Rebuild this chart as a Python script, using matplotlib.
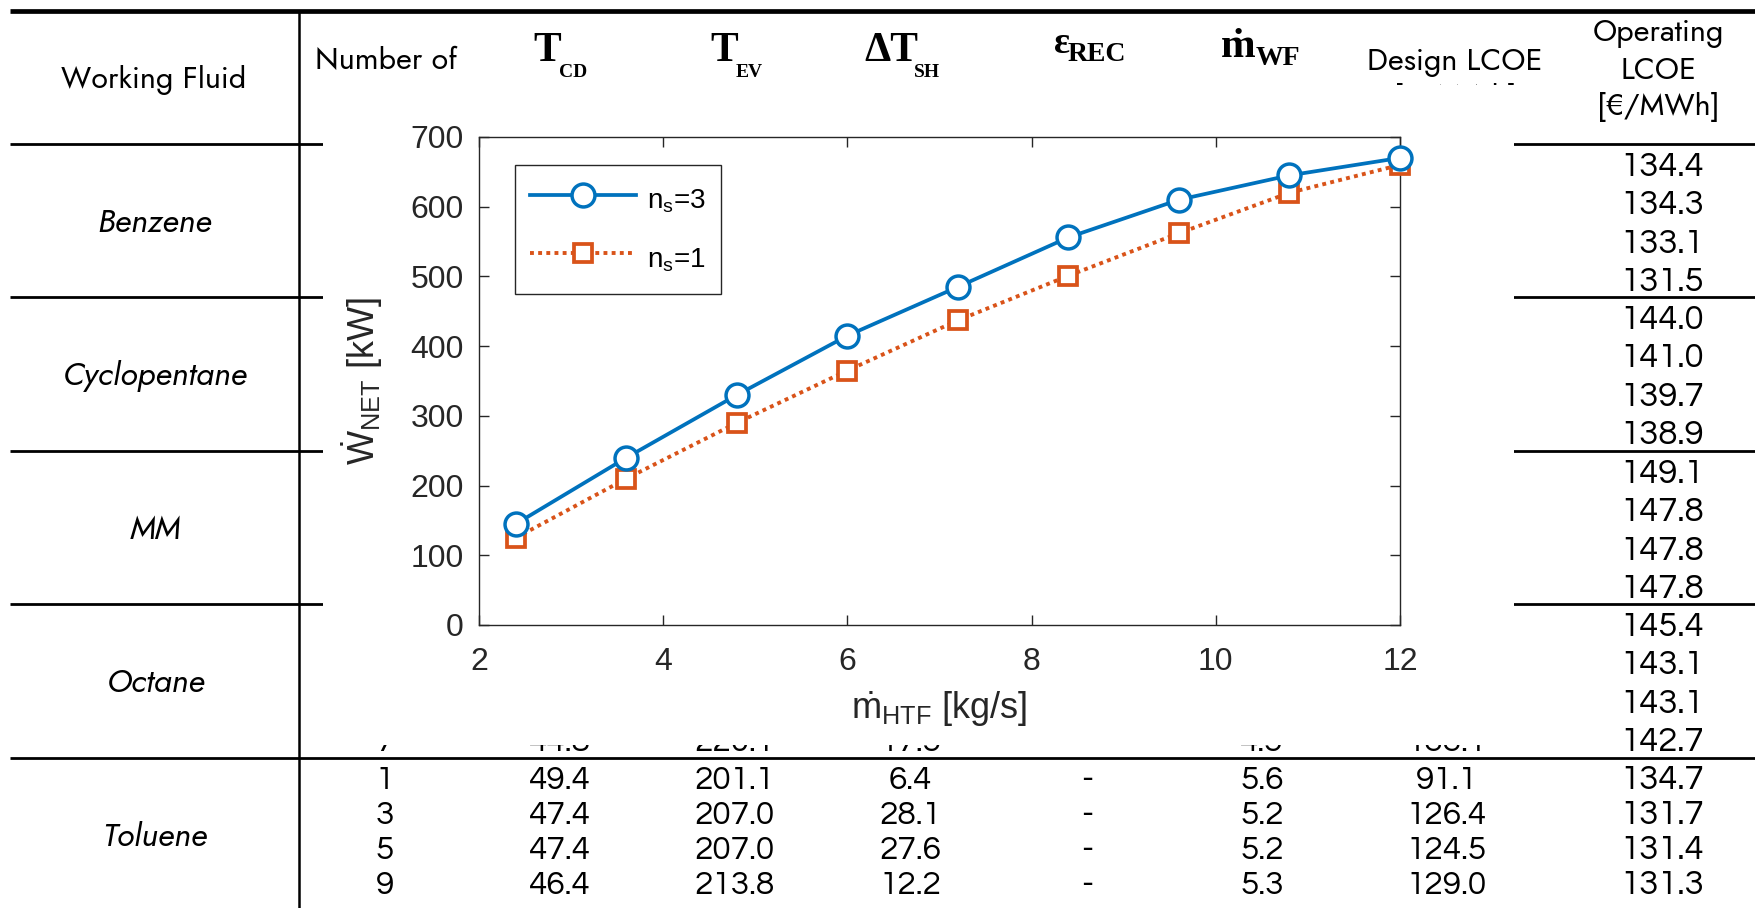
"""Net power vs HTF mass flow, drawn over the working-fluid LCOE table."""

import matplotlib
matplotlib.use("Agg")
import matplotlib.pyplot as plt
from matplotlib.patches import Rectangle

plt.rcParams["mathtext.fontset"] = "custom"
plt.rcParams["mathtext.rm"] = "Liberation Sans"
plt.rcParams["mathtext.it"] = "Liberation Sans:italic"
plt.rcParams["mathtext.bf"] = "Liberation Sans:bold"

# chart data
m_htf = [2.4, 3.6, 4.8, 6.0, 7.2, 8.4, 9.6, 10.8, 12.0]
w_net_ns3 = [145, 240, 330, 415, 485, 556, 610, 645, 670]
w_net_ns1 = [125, 210, 290, 365, 437, 501, 562, 620, 660]
x_ticks = [2, 4, 6, 8, 10, 12]
y_ticks = [0, 100, 200, 300, 400, 500, 600, 700]

# table underneath (only the parts that show)
fluids = ["Benzene", "Cyclopentane", "MM", "Octane", "Toluene"]
operating_lcoe = [
    ["134.4", "134.3", "133.1", "131.5"],
    ["144.0", "141.0", "139.7", "138.9"],
    ["149.1", "147.8", "147.8", "147.8"],
    ["145.4", "143.1", "143.1", "142.7"],
    ["134.7", "131.7", "131.4", "131.3"],
]
toluene_stages = ["1", "3", "5", "9"]
toluene_t_cd = ["49.4", "47.4", "47.4", "46.4"]
toluene_t_ev = ["201.1", "207.0", "207.0", "213.8"]
toluene_dt_sh = ["6.4", "28.1", "27.6", "12.2"]
toluene_eps_rec = ["-", "-", "-", "-"]
toluene_m_wf = ["5.6", "5.2", "5.2", "5.3"]
toluene_design_lcoe = ["91.1", "126.4", "124.5", "129.0"]
octane_last_row = ["7", "44.8", "220.1", "17.5", "-", "4.5", "133.1"]

W, H = 1756, 908
BLUE = "#0072BD"
ORANGE = "#D95319"
AX_COL = "#262626"
NUM_FONT = ["Questrial", "Lato", "DejaVu Sans"]
HEAD_FONT = ["Jost", "Lato", "DejaVu Sans"]
SERIF = ["Liberation Serif", "DejaVu Serif"]
CHART_FONT = ["Liberation Sans", "DejaVu Sans"]

fig = plt.figure(figsize=(W / 100, H / 100), dpi=100)

# ---- table in pixel coordinates ----
bg = fig.add_axes([0, 0, 1, 1])
bg.set_xlim(0, W)
bg.set_ylim(H, 0)
bg.axis("off")

block_lines = [144, 297, 451, 604, 758]
bg.plot([10, W], [11, 11], color="black", lw=3.4, solid_capstyle="butt")
for y in block_lines:
    bg.plot([10, W], [y, y], color="black", lw=2.0, solid_capstyle="butt")
bg.plot([299, 299], [11, H], color="black", lw=1.8, solid_capstyle="butt")

# headers
bg.text(154, 88, "Working Fluid", ha="center", va="baseline", fontsize=22, family=HEAD_FONT)
bg.text(386, 69, "Number of", ha="center", va="baseline", fontsize=22, family=HEAD_FONT)
bg.text(1455, 70, "Design LCOE", ha="center", va="baseline", fontsize=22, family=HEAD_FONT)
bg.text(1455, 106, "[€/MWh]", ha="center", va="baseline", fontsize=22, family=HEAD_FONT, zorder=1)
for y, s in zip([41, 79, 115], ["Operating", "LCOE", "[€/MWh]"]):
    bg.text(1658, y, s, ha="center", va="baseline", fontsize=22, family=HEAD_FONT)

# bold serif symbol headers: main glyph + lowered subscript
sym_heads = [
    (561, 61, "T", 30, 559, 77, "CD", 14),
    (738, 61, "T", 30, 736, 77, "EV", 14),
    (918, 61, "ΔT", 30, 914, 77, "SH", 14),
    (1070, 53, "ε", 27, 1068, 61, "REC", 20),
    (1256, 57, "ṁ", 30, 1256, 65, "WF", 20),
]
for xm, ym, main, fs_m, xs, ys, sub, fs_s in sym_heads:
    bg.text(xm, ym, main, ha="right", va="baseline", fontsize=fs_m, fontweight="bold", family=SERIF)
    bg.text(xs, ys, sub, ha="left", va="baseline", fontsize=fs_s, fontweight="bold", family=SERIF)

# fluid names and operating LCOE column
row_gap = 38.3
tol_gap = 35.0
for k, name in enumerate(fluids):
    top = block_lines[k]
    bg.text(155, top + 77 + 11, name, ha="center", va="baseline", fontsize=23.5,
            style="italic", family=HEAD_FONT)
    for i, v in enumerate(operating_lcoe[k]):
        if k == 4:
            y = top + 20 + tol_gap * i + 11
        else:
            y = top + 21 + row_gap * i + 11
        bg.text(1662, y, v, ha="center", va="baseline", fontsize=25, family=NUM_FONT)

col_x = [385, 560, 735, 910, 1087, 1262, 1447]
tol_cols = [toluene_stages, toluene_t_cd, toluene_t_ev, toluene_dt_sh,
            toluene_eps_rec, toluene_m_wf, toluene_design_lcoe]
for x, col in zip(col_x, tol_cols):
    for i, v in enumerate(col):
        bg.text(x, block_lines[4] + 20 + tol_gap * i + 11, v, ha="center", va="baseline",
                fontsize=24, family=NUM_FONT)
for x, v in zip(col_x, octane_last_row):
    bg.text(x, block_lines[3] + 21 + row_gap * 3 + 11, v, ha="center", va="baseline",
            fontsize=24, family=NUM_FONT, zorder=1)

# white patch of the pasted chart
bg.add_patch(Rectangle((323, 85), 1514 - 323, 745 - 85, facecolor="white",
                       edgecolor="none", zorder=5))

# ---- chart ----
ax = fig.add_axes([479 / W, 1 - 625 / H, 921 / W, 488 / H])
ax.set_zorder(10)
ax.plot(m_htf, w_net_ns3, "-o", color=BLUE, lw=2.7, ms=16.5, mfc="white", mew=2.5,
        clip_on=False, label=r"n$_\mathrm{s}$=3", zorder=4)
ax.plot(m_htf, w_net_ns1, "s", color=ORANGE, ls=(0, (1, 1.1)), lw=2.8, ms=12.5,
        mfc="white", mew=2.7, clip_on=False, label=r"n$_\mathrm{s}$=1", zorder=3)

ax.set_xlim(2, 12)
ax.set_ylim(0, 700)
ax.set_xticks(x_ticks)
ax.set_yticks(y_ticks)
ax.tick_params(direction="in", length=7, width=1.0, top=True, right=True,
               colors=AX_COL, labelsize=23)
ax.tick_params(axis="x", pad=16)
ax.tick_params(axis="y", pad=11)
for lab in ax.get_xticklabels() + ax.get_yticklabels():
    lab.set_family(CHART_FONT)
for sp in ax.spines.values():
    sp.set_color(AX_COL)
    sp.set_linewidth(1.0)

ax.set_xlabel(r"$\dot{\mathrm{m}}_{\mathrm{HTF}}$ [kg/s]", fontsize=26,
              family=CHART_FONT, color=AX_COL, labelpad=9)
ax.set_ylabel(r"$\dot{\mathrm{W}}_{\mathrm{NET}}$ [kW]", fontsize=26,
              family=CHART_FONT, color=AX_COL, labelpad=18)

leg = ax.legend(loc="upper left", bbox_to_anchor=(515 / W, 1 - 165 / H),
                bbox_transform=fig.transFigure, borderaxespad=0, fancybox=False,
                framealpha=1, edgecolor=AX_COL, handlelength=3.8, handletextpad=0.4,
                handleheight=1.8, borderpad=0.55, labelspacing=0.7,
                prop={"family": CHART_FONT, "size": 20})
leg.get_frame().set_linewidth(1.0)

fig.savefig("out.png", dpi=100, facecolor="white")
